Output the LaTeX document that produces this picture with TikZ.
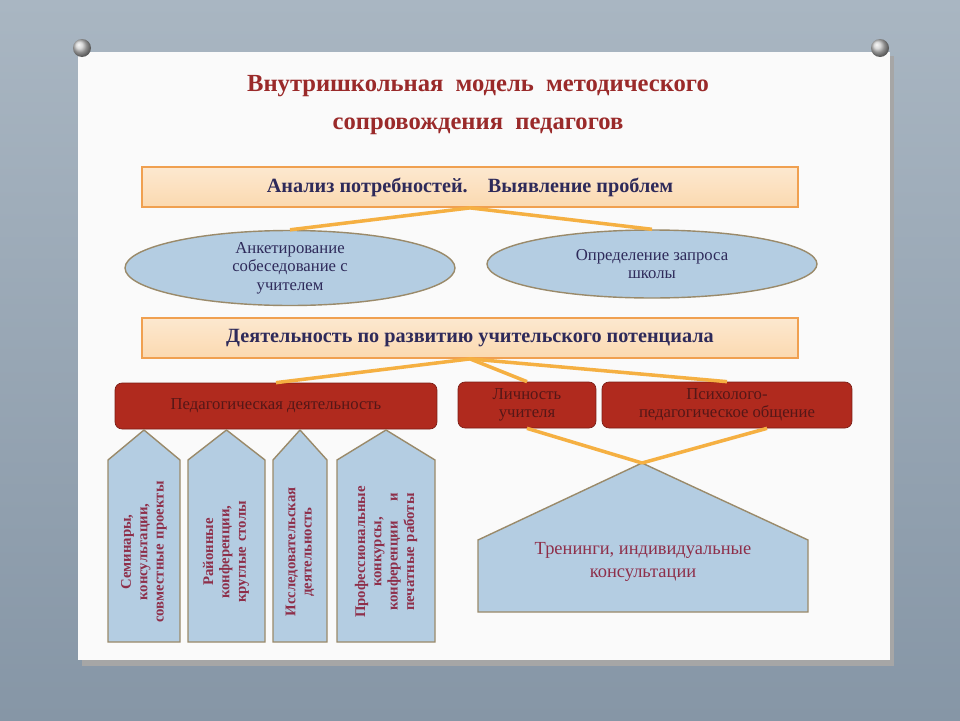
\documentclass[tikz,border=0pt]{standalone}
\usepackage{fontspec}
\setmainfont{Liberation Serif}
\usetikzlibrary{positioning, shapes.geometric}
\definecolor{titlered}{HTML}{9A2A2A}
\definecolor{navytext}{HTML}{2E2A5A}
\definecolor{peach}{HTML}{FBD9B0}
\definecolor{peachedge}{HTML}{F0A050}
\definecolor{paleblue}{HTML}{B4CDE2}
\definecolor{brownedge}{HTML}{9A8A6A}
\definecolor{brick}{HTML}{B02A1E}
\definecolor{linkline}{HTML}{F5B042}
\definecolor{wintext}{HTML}{8E2F4A}
\definecolor{wallhi}{HTML}{A9B6C2}
\definecolor{walllo}{HTML}{8696A6}
\begin{document}
\begin{tikzpicture}[x=0.02cm, y=-0.02cm]
				% ----- Styles -----
				\tikzset{
					headbox/.style={
						rectangle, draw=peachedge, line width=1pt,
						top color=peach!60, bottom color=peach,
						minimum width=13.12cm, minimum height=0.8cm,
						font=\fontsize{11.5}{13}\selectfont\bfseries, text=navytext
					},
					oval/.style={
						ellipse, draw=brownedge, fill=paleblue, line width=0.8pt,
						inner sep=0pt, align=center, text=navytext,
						font=\fontsize{9.5}{10.5}\selectfont
					},
					redbox/.style={
						rectangle, rounded corners=4pt, fill=brick, draw=brick!70!black,
						minimum height=0.92cm, align=center, text=titlered!55!black,
						font=\fontsize{9.5}{10}\selectfont
					},
					pent/.style={fill=paleblue, draw=brownedge, line width=0.8pt},
					vtext/.style={rotate=90, align=center, text=wintext, inner sep=0pt,
						font=\fontsize{8.4}{9.3}\selectfont\bfseries},
					link/.style={draw=linkline, line width=2pt}
				}
				% ----- Background -----
				\fill[top color=wallhi, bottom color=walllo] (0,0) rectangle (960,720);
				\fill[black!35] (82,56) rectangle (894,666);
				\fill[white!96!gray] (78,52) rectangle (890,660);
				\foreach \px in {82,880}{
					\shade[ball color=gray!40] (\px,48) circle (9);
				}
				% ----- Title -----
				\node (title) at (478,105) [align=center, text=titlered,
					font=\fontsize{14}{22}\selectfont\bfseries]
					{Внутришкольная\ \ модель\ \ методического\\сопровождения\ \ педагогов};
				% ----- Nodes -----
				\node (need) at (470,187) [headbox] {Анализ потребностей.\quad Выявление проблем};
				\node (poll) at (290,268) [oval, minimum width=6.6cm, minimum height=1.5cm]
					{Анкетирование\\собеседование с\\учителем};
				\node (req) at (652,264) [oval, minimum width=6.6cm, minimum height=1.36cm]
					{Определение запроса\\школы};
				\node (dev) at (470,338) [headbox] {Деятельность по развитию учительского потенциала};
				\node (ped) at (276,406) [redbox, minimum width=6.44cm] {Педагогическая деятельность};
				\node (pers) at (527,405) [redbox, minimum width=2.76cm] {Личность\\учителя};
				\node (psy) at (727,405) [redbox, minimum width=5cm] {Психолого-\\педагогическое общение};
				% ----- Pentagons -----
				\foreach \l/\r/\n in {108/180/a, 188/265/b, 273/327/c, 337/435/d}{
					\draw[pent] (\l,642) -- (\l,460) -- ({(\l+\r)/2},430) coordinate (top\n)
						-- (\r,460) -- (\r,642) -- cycle;
				}
				\node (seminar) at (144,552) [vtext, text width=3.5cm]
					{Семинары,\\консультации,\\совместные проекты};
				\node (conf) at (226,552) [vtext, text width=3.5cm]
					{Районные\\конференции,\\круглые столы};
				\node (research) at (300,552) [vtext, text width=3.5cm]
					{Исследовательская\\деятельность};
				\node (prof) at (386,552) [vtext, text width=3.5cm]
					{Профессиональные\\конкурсы,\\конференции \quad и\\печатные работы};
				\draw[pent] (478,612) -- (478,540) -- (642,463) coordinate (topt)
					-- (808,540) -- (808,612) -- cycle;
				\node (train) at (643,562) [align=center, text=wintext,
					font=\fontsize{10.5}{13}\selectfont]
					{Тренинги, индивидуальные\\консультации};
				% ----- Links -----
				\draw[link] (need.south) -- (poll.north);
				\draw[link] (need.south) -- (req.north);
				\draw[link] (dev.south) -- (ped.north);
				\draw[link] (dev.south) -- (pers.north);
				\draw[link] (dev.south) -- (psy.north);
				\draw[link] (pers.south) -- (topt);
				\draw[link] (psy.south) ++(40,0) -- (topt);
			\end{tikzpicture}
\end{document}
